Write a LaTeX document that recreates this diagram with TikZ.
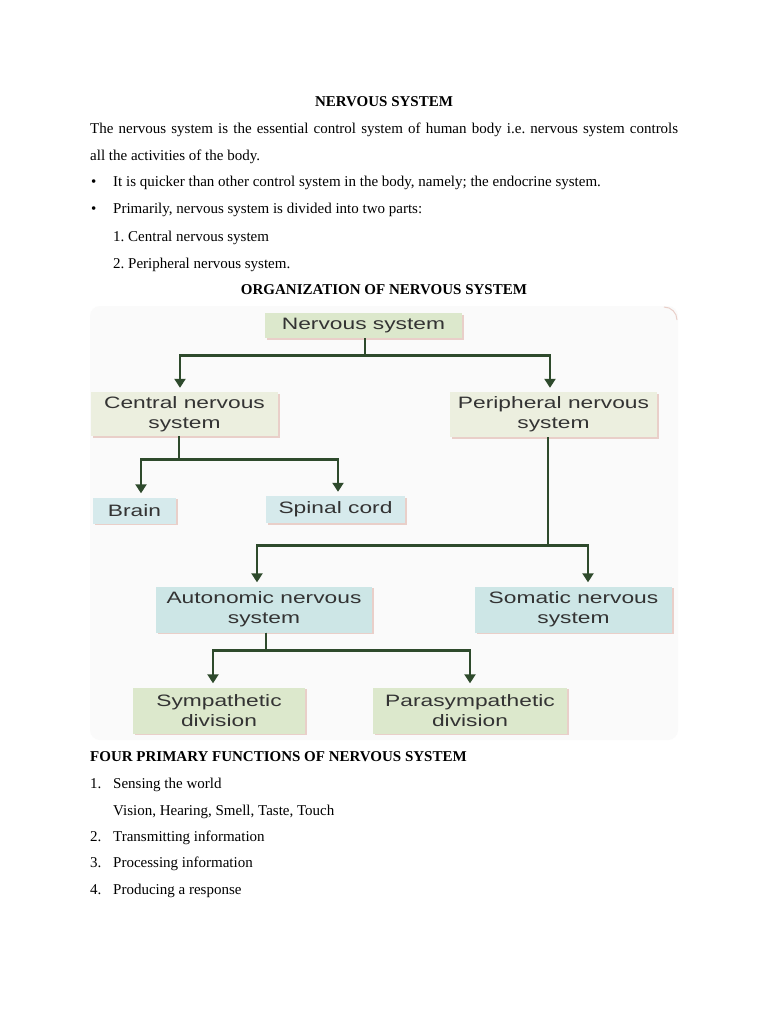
\documentclass[tikz,border=0pt]{standalone}
\usepackage{fontspec}
\setmainfont{Liberation Serif}
\newfontfamily\boxfont[FakeStretch=1.38]{Liberation Sans}
\usetikzlibrary{arrows.meta}
\usetikzlibrary{shadows}

\definecolor{linkgreen}{HTML}{2E4A2C}
\definecolor{boxgreen}{HTML}{DCE8CC}
\definecolor{boxcream}{HTML}{ECEFDF}
\definecolor{boxblue}{HTML}{CDE6E6}
\definecolor{boxsky}{HTML}{D6EAEC}
\definecolor{boxtext}{HTML}{333333}
\definecolor{boxedge}{HTML}{E9CFC9}
\definecolor{panel}{HTML}{FAFAFA}

\tikzset{
    orgbox/.style={rectangle, inner sep=0pt, align=center, text=boxtext,
        font=\boxfont\fontsize{16.5}{20}\selectfont,
        general shadow={fill=boxedge, shadow xshift=1.5pt, shadow yshift=-1.5pt}},
    link/.style={linkgreen, line width=2.6pt, -{Triangle[width=11pt,length=9pt]}, shorten >=4pt},
    bodytext/.style={anchor=base west, inner sep=0pt, font=\fontsize{15}{18}\selectfont},
}

\begin{document}
\frenchspacing
\begin{tikzpicture}[x=1pt, y=-1pt]
        \useasboundingbox[fill=white] (0,0) rectangle (768,1024);

        % text above the chart
        \node[bodytext, anchor=base] (title) at (384,107) {\bfseries NERVOUS SYSTEM};
        \node[bodytext] (introa) at (90,134) {\makebox[588pt][s]{The nervous system is the essential control system of human body i.e. nervous system controls}};
        \node[bodytext] (introb) at (90,161) {all the activities of the body.};
        \node[bodytext] (dota) at (91,187) {\textbullet};
        \node[bodytext] (pointa) at (113,187) {It is quicker than other control system in the body, namely; the endocrine system.};
        \node[bodytext] (dotb) at (91,214) {\textbullet};
        \node[bodytext] (pointb) at (113,214) {Primarily, nervous system is divided into two parts:};
        \node[bodytext] (parta) at (113,241) {1. Central nervous system};
        \node[bodytext] (partb) at (113,268) {2. Peripheral nervous system.};
        \node[bodytext, anchor=base] (orgtitle) at (384,294) {\bfseries ORGANIZATION OF NERVOUS SYSTEM};

        % chart
        \fill[panel, rounded corners=10pt] (90,306) rectangle (678,740);
        \draw[boxedge, line width=1pt] (664,307) to[out=0, in=90] (677,320);

        \node[orgbox, fill=boxgreen, minimum width=197pt, minimum height=25pt] (nervous) at (363.5,325.5) {Nervous system};
        \node[orgbox, fill=boxcream, minimum width=187pt, minimum height=44pt] (central) at (184.5,414) {Central nervous\\system};
        \node[orgbox, fill=boxcream, minimum width=207pt, minimum height=45pt] (peripheral) at (553.5,414.5) {Peripheral nervous\\system};
        \node[orgbox, fill=boxsky, minimum width=83pt, minimum height=26pt] (brain) at (134.5,510.5) {Brain};
        \node[orgbox, fill=boxsky, minimum width=139pt, minimum height=27pt] (spinal) at (335.5,509.5) {Spinal cord};
        \node[orgbox, fill=boxblue, minimum width=216pt, minimum height=46pt] (autonomic) at (264,609.5) {Autonomic nervous\\system};
        \node[orgbox, fill=boxblue, minimum width=197pt, minimum height=46pt] (somatic) at (573.5,609.5) {Somatic nervous\\system};
        \node[orgbox, fill=boxgreen, minimum width=172pt, minimum height=46pt] (sympathetic) at (219,710.5) {Sympathetic\\division};
        \node[orgbox, fill=boxgreen, minimum width=194pt, minimum height=46pt] (parasympathetic) at (470,710.5) {Parasympathetic\\division};

        \draw[link] ([xshift=1.5pt]nervous.south) -- ++(0,17) -| ([xshift=-4.5pt]central.north);
        \draw[link] ([xshift=1.5pt]nervous.south) -- ++(0,17) -| ([xshift=-3.5pt]peripheral.north);
        \draw[link] ([xshift=-5.5pt]central.south) -- ++(0,23) -| ([xshift=6.5pt]brain.north);
        \draw[link] ([xshift=-5.5pt]central.south) -- ++(0,23) -| ([xshift=2.5pt]spinal.north);
        \draw[link] ([xshift=-5.5pt]peripheral.south) -- ++(0,108) -| ([xshift=-7pt]autonomic.north);
        \draw[link] ([xshift=-5.5pt]peripheral.south) -- ++(0,108) -| ([xshift=14.5pt]somatic.north);
        \draw[link] ([xshift=2pt]autonomic.south) -- ++(0,18) -| ([xshift=-6pt]sympathetic.north);
        \draw[link] ([xshift=2pt]autonomic.south) -- ++(0,18) -| (parasympathetic.north);

        % text below the chart
        \node[bodytext] (functitle) at (90,761) {\bfseries FOUR PRIMARY FUNCTIONS OF NERVOUS SYSTEM};
        \node[bodytext] (numa) at (90,788) {1.};
        \node[bodytext] (funca) at (113,788) {Sensing the world};
        \node[bodytext] (senses) at (113,815) {Vision, Hearing, Smell, Taste, Touch};
        \node[bodytext] (numb) at (90,841) {2.};
        \node[bodytext] (funcb) at (113,841) {Transmitting information};
        \node[bodytext] (numc) at (90,867) {3.};
        \node[bodytext] (funcc) at (113,867) {Processing information};
        \node[bodytext] (numd) at (90,894) {4.};
        \node[bodytext] (funcd) at (113,894) {Producing a response};
\end{tikzpicture}
\end{document}
